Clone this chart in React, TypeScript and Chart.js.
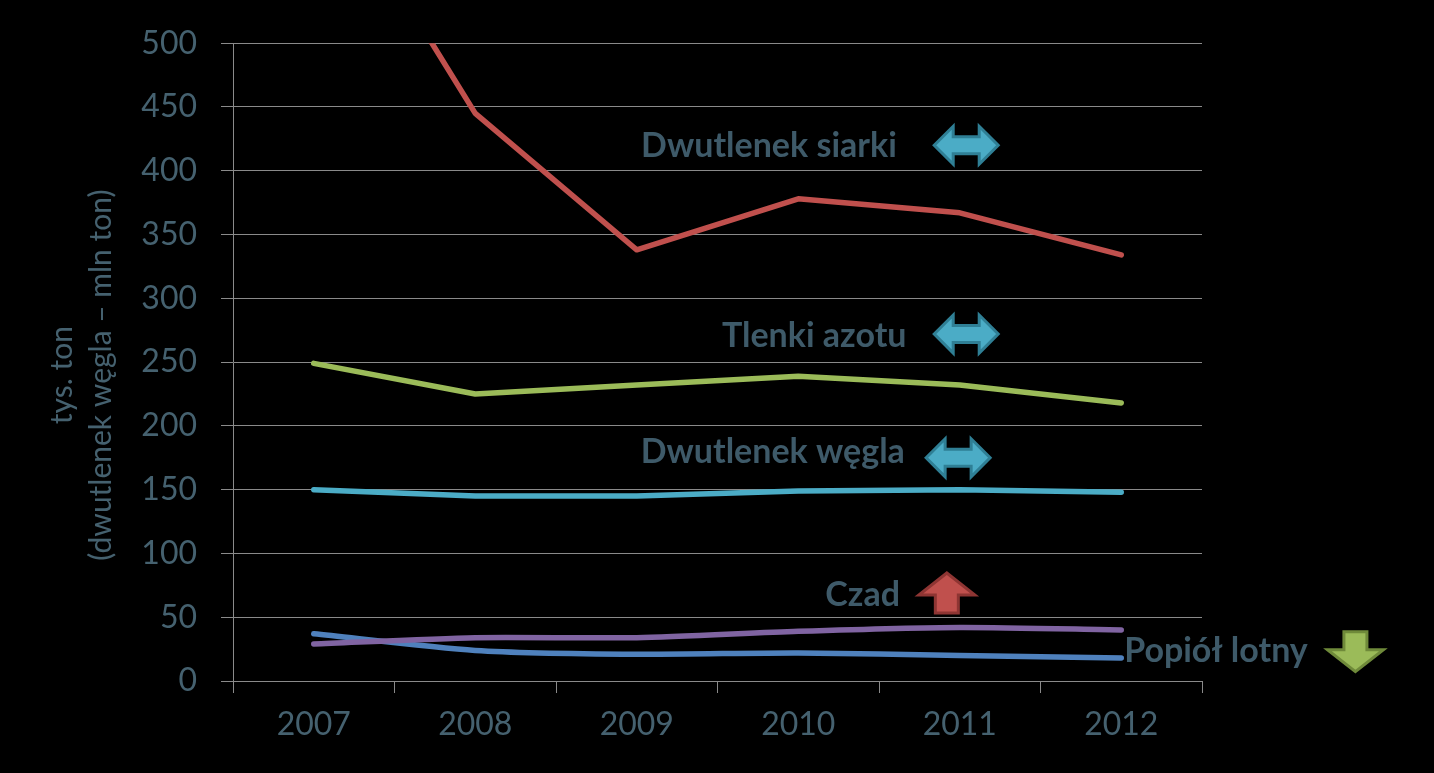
import React, { useEffect, useRef } from "react";
import { Chart, registerables } from "chart.js";

Chart.register(...registerables);

const years = ["2007", "2008", "2009", "2010", "2011", "2012"];
const sulfurDioxide = [650, 445, 338, 378, 367, 334];
const nitrogenOxides = [249, 225, 232, 239, 232, 218];
const carbonDioxide = [150, 145, 145, 149, 150, 148];
const carbonMonoxide = [29, 34, 34, 39, 42, 40];
const flyAsh = [37, 24, 21, 22, 20, 18];

const yTitleLines = ["tys. ton", "(dwutlenek węgla – mln ton)"];

const annoTexts = ["Dwutlenek siarki", "Tlenki azotu", "Dwutlenek węgla", "Czad", "Popiół lotny"];
const annoTextY = [420, 271, 180, 68, 24];
const annoTextRight = [3.61, 3.67, 3.66, 3.63, 6.155];
const annoArrowX = [4.04, 4.04, 3.99, 3.92, 6.45];
const annoArrowY = [420, 272, 175, 69, 23];
const annoArrowKind = ["both", "both", "both", "up", "down"];

const TEXT = "#45616f";
const ANNO_TEXT = "#3e5a69";
const GRID = "#8a8a8a";

function drawDouble(ctx: CanvasRenderingContext2D, cx: number, cy: number) {
  const hw = 32, hh = 19, sh = 8.5, head = 19;
  ctx.beginPath();
  ctx.moveTo(cx - hw, cy);
  ctx.lineTo(cx - hw + head, cy - hh);
  ctx.lineTo(cx - hw + head, cy - sh);
  ctx.lineTo(cx + hw - head, cy - sh);
  ctx.lineTo(cx + hw - head, cy - hh);
  ctx.lineTo(cx + hw, cy);
  ctx.lineTo(cx + hw - head, cy + hh);
  ctx.lineTo(cx + hw - head, cy + sh);
  ctx.lineTo(cx - hw + head, cy + sh);
  ctx.lineTo(cx - hw + head, cy + hh);
  ctx.closePath();
  ctx.fillStyle = "#4bacc6";
  ctx.fill();
  ctx.strokeStyle = "#2f7f95";
  ctx.lineWidth = 3;
  ctx.lineJoin = "miter";
  ctx.stroke();
}

function drawVertical(ctx: CanvasRenderingContext2D, cx: number, cy: number, up: boolean, fill: string, stroke: string) {
  const hw = 28, sw = 11.5, hh = 20, head = 22;
  const s = up ? 1 : -1;
  ctx.beginPath();
  ctx.moveTo(cx, cy - s * hh);
  ctx.lineTo(cx + hw, cy - s * (hh - head));
  ctx.lineTo(cx + sw, cy - s * (hh - head));
  ctx.lineTo(cx + sw, cy + s * hh);
  ctx.lineTo(cx - sw, cy + s * hh);
  ctx.lineTo(cx - sw, cy - s * (hh - head));
  ctx.lineTo(cx - hw, cy - s * (hh - head));
  ctx.closePath();
  ctx.fillStyle = fill;
  ctx.fill();
  ctx.strokeStyle = stroke;
  ctx.lineWidth = 3;
  ctx.stroke();
}

const decorPlugin = {
  id: "decor",
  afterDraw(chart: any) {
    const ctx: CanvasRenderingContext2D = chart.ctx;
    const xs = chart.scales.x;
    const ys = chart.scales.y;
    const area = chart.chartArea;
    ctx.save();
    // y axis title
    ctx.fillStyle = TEXT;
    ctx.font = "30px Lato";
    ctx.textAlign = "center";
    ctx.textBaseline = "middle";
    const cy = (area.top + area.bottom) / 2 + 13;
    yTitleLines.forEach((line, i) => {
      ctx.save();
      ctx.translate(area.left - 171 + i * 39, cy);
      ctx.rotate(-Math.PI / 2);
      ctx.fillText(line, 0, 0);
      ctx.restore();
    });
    // annotations
    annoTexts.forEach((t, i) => {
      const x = xs.getPixelForValue(annoTextRight[i]);
      const y = ys.getPixelForValue(annoTextY[i]);
      ctx.font = "bold 34px Lato";
      ctx.textAlign = "right";
      ctx.textBaseline = "alphabetic";
      ctx.fillStyle = ANNO_TEXT;
      ctx.fillText(t, x, y + 12);
      const ax = xs.getPixelForValue(annoArrowX[i]);
      const ay = ys.getPixelForValue(annoArrowY[i]);
      const kind = annoArrowKind[i];
      if (kind === "both") drawDouble(ctx, ax, ay);
      else if (kind === "up") drawVertical(ctx, ax, ay, true, "#c0504d", "#8e3533");
      else drawVertical(ctx, ax, ay, false, "#9bbb59", "#6f8a3a");
    });
    ctx.restore();
  },
};

export default function App() {
  const ref = useRef<HTMLCanvasElement>(null);
  useEffect(() => {
    if (!ref.current) return;
    const mk = (label: string, data: number[], color: string, tension: number) => ({
      label,
      data,
      borderColor: color,
      backgroundColor: color,
      borderWidth: 5.5,
      pointRadius: 0,
      tension,
      borderCapStyle: "round" as const,
      borderJoinStyle: "round" as const,
      clip: 0,
    });
    const chart = new Chart(ref.current, {
      type: "line",
      data: {
        labels: years,
        datasets: [
          mk("Dwutlenek siarki", sulfurDioxide, "#c0504d", 0),
          mk("Tlenki azotu", nitrogenOxides, "#9bbb59", 0),
          mk("Dwutlenek węgla", carbonDioxide, "#4bacc6", 0),
          mk("Czad", carbonMonoxide, "#8064a2", 0.25),
          mk("Popiół lotny", flyAsh, "#4f81bd", 0.25),
        ],
      },
      options: {
        animation: false,
        responsive: false,
        layout: { padding: { left: 0, right: 232, top: 42, bottom: 0 } },
        plugins: { legend: { display: false }, tooltip: { enabled: false } },
        scales: {
          x: {
            offset: true,
            grid: { display: true, offset: true, drawOnChartArea: false, drawTicks: true, tickLength: 12, color: GRID, lineWidth: 1 },
            border: { display: true, color: GRID, width: 1 },
            ticks: { color: TEXT, font: { family: "Lato", size: 32 }, padding: 12, maxRotation: 0 },
            afterFit: (s: any) => { s.height = 92; },
          },
          y: {
            min: 0,
            max: 500,
            ticks: { stepSize: 50, color: TEXT, font: { family: "Lato", size: 32 }, padding: 24 },
            grid: { color: GRID, lineWidth: 1, tickLength: 12, drawTicks: true },
            border: { display: true, color: GRID, width: 1 },
            afterFit: (s: any) => { s.width = 233; },
          },
        },
      },
      plugins: [decorPlugin],
    });
    return () => chart.destroy();
  }, []);
  return (
    <div style={{ position: "fixed", left: 0, top: 0, width: 1434, height: 773, background: "#000" }}>
      <canvas ref={ref} width={1434} height={773} style={{ display: "block" }} />
    </div>
  );
}
